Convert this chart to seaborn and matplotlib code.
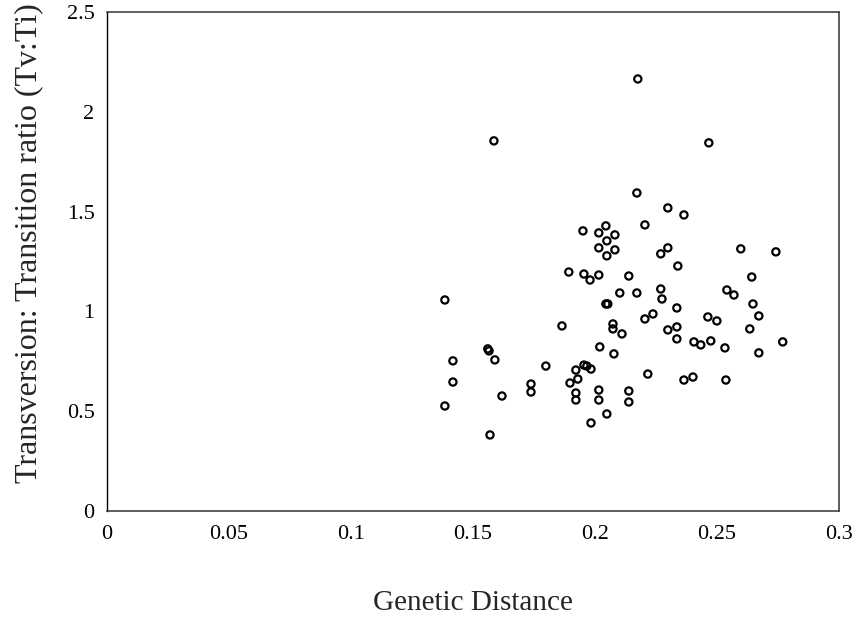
import matplotlib
matplotlib.use("Agg")
import matplotlib.pyplot as plt
import seaborn as sns
import pandas as pd

genetic_distance = [
    0.1385, 0.1385, 0.1418, 0.1418, 0.1561, 0.1566, 0.1590, 0.1570, 0.1586, 0.1619,
    0.1738, 0.1738, 0.1799, 0.1865, 0.1893, 0.1898, 0.1922, 0.1930, 0.1922, 0.1922,
    0.1951, 0.1955, 0.1955, 0.1967, 0.1980, 0.1984, 0.1984, 0.2016, 0.2016, 0.2016,
    0.2016, 0.2016, 0.2020, 0.2045, 0.2049, 0.2049, 0.2045, 0.2053, 0.2049, 0.2074,
    0.2074, 0.2078, 0.2082, 0.2082, 0.2102, 0.2111, 0.2139, 0.2139, 0.2139, 0.2172,
    0.2172, 0.2176, 0.2205, 0.2205, 0.2217, 0.2238, 0.2270, 0.2299, 0.2270, 0.2275,
    0.2299, 0.2299, 0.2336, 0.2336, 0.2336, 0.2340, 0.2365, 0.2365, 0.2402, 0.2406,
    0.2434, 0.2463, 0.2500, 0.2467, 0.2475, 0.2533, 0.2537, 0.2541, 0.2570, 0.2598,
    0.2635, 0.2643, 0.2648, 0.2672, 0.2672, 0.2742, 0.2770,
]
tv_ti_ratio = [
    1.057, 0.526, 0.752, 0.646, 0.812, 0.802, 0.757, 0.381, 1.854, 0.576,
    0.636, 0.596, 0.726, 0.927, 1.197, 0.641, 0.706, 0.661, 0.591, 0.556,
    1.403, 1.187, 0.731, 0.726, 1.157, 0.711, 0.441, 1.393, 1.318, 1.182,
    0.606, 0.556, 0.822, 1.428, 1.353, 1.278, 1.037, 1.037, 0.486, 0.937,
    0.912, 0.787, 1.383, 1.308, 1.092, 0.887, 1.177, 0.601, 0.546, 1.593,
    1.092, 2.164, 1.433, 0.962, 0.686, 0.987, 1.288, 1.318, 1.112, 1.062,
    1.518, 0.907, 1.017, 0.922, 0.862, 1.227, 1.483, 0.656, 0.671, 0.847,
    0.832, 0.972, 0.952, 1.844, 0.852, 0.817, 0.656, 1.107, 1.082, 1.313,
    0.912, 1.172, 1.037, 0.977, 0.792, 1.298, 0.847,
]
x_ticks = [0, 0.05, 0.1, 0.15, 0.2, 0.25, 0.3]
x_tick_labels = ["0", "0.05", "0.1", "0.15", "0.2", "0.25", "0.3"]
y_ticks = [0, 0.5, 1, 1.5, 2, 2.5]
y_tick_labels = ["0", "0.5", "1", "1.5", "2", "2.5"]

df = pd.DataFrame({"Genetic Distance": genetic_distance, "Tv:Ti": tv_ti_ratio})

sns.set_style("white")
plt.rcParams["font.family"] = ["Liberation Serif", "DejaVu Serif"]

fig = plt.figure(figsize=(8.63, 6.25), dpi=100)
ax = fig.add_axes([0.124, 0.1824, 0.848, 0.7986])

sns.scatterplot(data=df, x="Genetic Distance", y="Tv:Ti", ax=ax,
                marker="o", s=27, facecolors="none", edgecolor="black",
                linewidth=1.6, legend=False)

ax.set_xlim(0, 0.3)
ax.set_ylim(0, 2.5)
ax.set_xticks(x_ticks)
ax.set_xticklabels(x_tick_labels)
ax.set_yticks(y_ticks)
ax.set_yticklabels(y_tick_labels)
ax.tick_params(axis="x", direction="in", length=3, width=0.6, colors="black",
               labelsize=16, pad=10)
ax.tick_params(axis="y", direction="out", length=3, width=0.6, colors="black",
               labelsize=16, pad=6)

for name, sp in ax.spines.items():
    sp.set_visible(True)
    sp.set_color("#333333")
    sp.set_linewidth(1.1)
    sp.set_linestyle((0, (1, 1)))
ax.spines["left"].set_linestyle("-")
ax.spines["left"].set_color("black")
ax.spines["left"].set_linewidth(1.0)

ax.set_xlabel("Genetic Distance", fontsize=21, labelpad=33)
ax.set_ylabel("Transversion: Transition ratio (Tv:Ti)", fontsize=23)
ax.yaxis.set_label_coords(-0.087, 0.537)
ax.grid(False)

fig.savefig("out.png", dpi=100, facecolor="white")
